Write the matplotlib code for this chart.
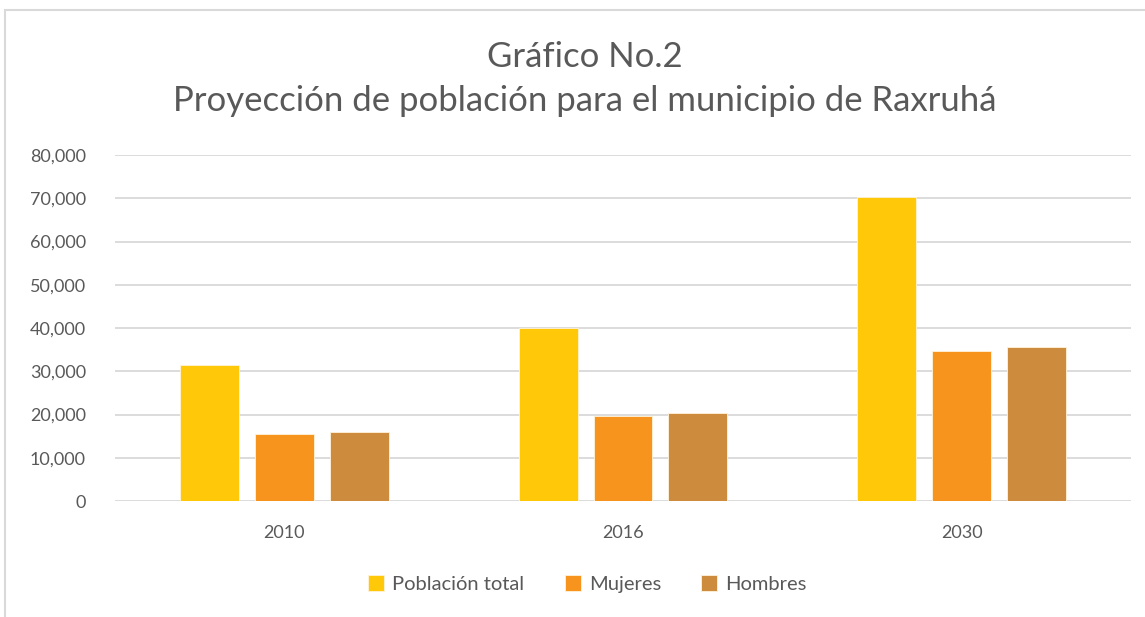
import matplotlib.pyplot as plt
import numpy as np
from matplotlib.patches import Rectangle

years = ['2010', '2016', '2030']
poblacion_total = [31400, 40050, 70300]
mujeres = [15450, 19650, 34650]
hombres = [16050, 20250, 35600]

series = [('Población total', poblacion_total, '#FFC90A'),
          ('Mujeres', mujeres, '#F7941E'),
          ('Hombres', hombres, '#CD8B3E')]

plt.rcParams['font.family'] = ['Lato', 'DejaVu Sans']
txt = '#595959'

fig = plt.figure(figsize=(11.45, 6.17), dpi=100)
ax = fig.add_axes([115 / 1145, 1 - 501 / 617, 1016 / 1145, 346 / 617])

# light frame of the chart area
fig.patches.append(Rectangle((5 / 1145, -0.1), 1.2, (617 - 10) / 617 + 0.1,
                             transform=fig.transFigure, fill=False,
                             edgecolor='#D9D9D9', lw=1.5))

x = np.arange(len(years))
width = 0.174
step = 0.221
for i, (name, vals, col) in enumerate(series):
    ax.bar(x + (i - 1) * step, vals, width, color=col, label=name,
           edgecolor='#FFF3DC', linewidth=0.6, zorder=3)

ax.set_xlim(-0.5, 2.5)
ax.set_ylim(0, 80000)
ax.set_yticks(range(0, 80001, 10000))
ax.yaxis.set_major_formatter(plt.FuncFormatter(lambda v, p: f'{int(v):,}'))
ax.set_xticks(x)
ax.set_xticklabels(years)
ax.grid(axis='y', color='#D9D9D9', lw=1.3, zorder=0)
for s in ax.spines.values():
    s.set_visible(False)
ax.tick_params(axis='both', length=0, labelsize=13, colors=txt)
ax.tick_params(axis='y', pad=21)
ax.tick_params(axis='x', pad=17)

fig.text(585 / 1145, 1 - 57 / 617, 'Gráfico No.2', ha='center', va='center',
         fontsize=25, color=txt)
fig.text(585 / 1145, 1 - 101 / 617, 'Proyección de población para el municipio de Raxruhá',
         ha='center', va='center', fontsize=25, color=txt)

leg = fig.legend(loc='center', bbox_to_anchor=(0.513, 1 - 584 / 617), ncol=3,
                 frameon=False, fontsize=14.5, handlelength=0.8, handleheight=0.8,
                 handletextpad=0.4, columnspacing=2.0, labelcolor=txt)

fig.savefig('out.png', dpi=100)
